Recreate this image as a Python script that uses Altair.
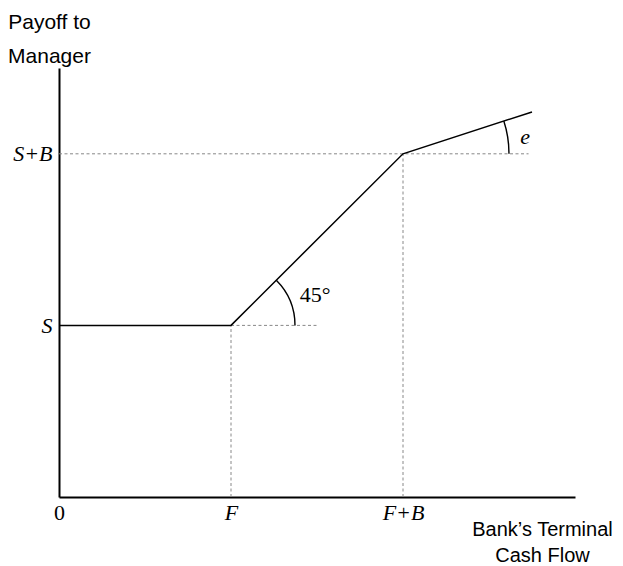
import math
import altair as alt
import pandas as pd

# ---- figure values (data units) ----
F = 10.0          # face value of debt
B = 10.0          # bonus range
S = 10.0          # salary
x_max = 30.0
y_max = 25.0

# payoff schedule
pay_x = [0.0, F, F + B, 27.5]
pay_y = [S, S, S + B, 22.44]

# dashed guide segments
guide_x = [F, F, 0.0, F + B]
guide_x2 = [15.0, F, 27.3, F + B]
guide_y = [S, 0.0, S + B, 0.0]
guide_y2 = [S, S, S + B, S + B]

# axis labels
x_tick_values = [0.0, F, F + B]
x_tick_labels = ["0", "F", "F+B"]
y_tick_values = [S, S + B]
y_tick_labels = ["S", "S+B"]

y_title = ["Payoff to", "Manager"]
x_title = ["Bank\u2019s Terminal", "Cash Flow"]

# angle annotations
angle_text = ["45\u00b0", "e"]
angle_text_x = [14.0, 27.1]
angle_text_y = [11.77, 20.98]

# ---- layout ----
W, H = 516, 429
px_x = W / x_max
px_y = H / y_max


def label_expr(values, labels):
    expr = "'" + labels[-1] + "'"
    for v, l in reversed(list(zip(values[:-1], labels[:-1]))):
        expr = f"abs(datum.value - {v}) < 1e-6 ? '{l}' : " + expr
    return expr


xs = alt.Scale(domain=[0, x_max], nice=False, zero=False)
ys = alt.Scale(domain=[0, y_max], nice=False, zero=False)

x_axis = alt.Axis(
    values=x_tick_values,
    labelExpr=label_expr(x_tick_values, x_tick_labels),
    ticks=False, tickSize=0, grid=False,
    domainColor="black", domainWidth=2,
    labelFont="Liberation Serif", labelFontSize=22, labelColor="black",
    labelFontStyle={"condition": {"test": "datum.value == 0", "value": "normal"}, "value": "italic"},
    labelBaseline="alphabetic", labelPadding=22, labelFlush=False,
    labelOverlap=False, labelAlign="center",
    title=x_title, titleFont="Liberation Sans", titleFontSize=20,
    titleFontWeight="normal", titleColor="black", titleAngle=0,
    titleAlign="center", titleBaseline="alphabetic", titleLineHeight=26,
    titleX=483, titleY=38,
)
y_axis = alt.Axis(
    values=y_tick_values,
    labelExpr=label_expr(y_tick_values, y_tick_labels),
    ticks=False, tickSize=0, grid=False,
    domainColor="black", domainWidth=2,
    labelFont="Liberation Serif", labelFontSize=22, labelColor="black",
    labelFontStyle="italic", labelBaseline="middle", labelPadding=7,
    labelFlush=False, labelOverlap=False,
    title=y_title, titleFont="Liberation Sans", titleFontSize=21,
    titleFontWeight="normal", titleColor="black", titleAngle=0,
    titleAlign="center", titleBaseline="alphabetic", titleLineHeight=34,
    titleX=-10, titleY=-40,
)

guides = pd.DataFrame({"x": guide_x, "x2": guide_x2, "y": guide_y, "y2": guide_y2})
payoff = pd.DataFrame({"x": pay_x, "y": pay_y, "o": list(range(len(pay_x)))})
ann = pd.DataFrame({"x": angle_text_x, "y": angle_text_y, "t": angle_text})

guide_layer = alt.Chart(guides).mark_rule(
    color="#888888", strokeWidth=1, strokeDash=[3, 2.5]
).encode(
    x=alt.X("x:Q", scale=xs, axis=x_axis),
    x2="x2:Q",
    y=alt.Y("y:Q", scale=ys, axis=y_axis),
    y2="y2:Q",
)

line_layer = alt.Chart(payoff).mark_line(color="black", strokeWidth=1.5).encode(
    x=alt.X("x:Q", scale=xs, axis=x_axis),
    y=alt.Y("y:Q", scale=ys, axis=y_axis),
    order="o:Q",
)

# angle arcs
kink1 = pd.DataFrame({"x": [pay_x[1]], "y": [pay_y[1]]})
kink2 = pd.DataFrame({"x": [pay_x[2]], "y": [pay_y[2]]})
ang1 = math.atan2((pay_y[2] - pay_y[1]) * px_y, (pay_x[2] - pay_x[1]) * px_x)
ang2 = math.atan2((pay_y[3] - pay_y[2]) * px_y, (pay_x[3] - pay_x[2]) * px_x)

arc1 = alt.Chart(kink1).mark_arc(
    theta=math.pi / 2 - ang1, theta2=math.pi / 2, radius=64.7, radius2=63.3, color="black"
).encode(
    x=alt.X("x:Q", scale=xs, axis=x_axis),
    y=alt.Y("y:Q", scale=ys, axis=y_axis),
)
arc2 = alt.Chart(kink2).mark_arc(
    theta=math.pi / 2 - ang2, theta2=math.pi / 2, radius=106.7, radius2=105.3, color="black"
).encode(
    x=alt.X("x:Q", scale=xs, axis=x_axis),
    y=alt.Y("y:Q", scale=ys, axis=y_axis),
)

txt45 = alt.Chart(ann.iloc[[0]]).mark_text(
    font="Liberation Serif", fontSize=22, align="left", baseline="middle", color="black"
).encode(
    x=alt.X("x:Q", scale=xs, axis=x_axis),
    y=alt.Y("y:Q", scale=ys, axis=y_axis),
    text="t:N",
)
txte = alt.Chart(ann.iloc[[1]]).mark_text(
    font="Liberation Serif", fontSize=22, fontStyle="italic", align="center",
    baseline="middle", color="black"
).encode(
    x=alt.X("x:Q", scale=xs, axis=x_axis),
    y=alt.Y("y:Q", scale=ys, axis=y_axis),
    text="t:N",
)

chart = alt.layer(guide_layer, line_layer, arc1, arc2, txt45, txte).properties(
    width=W, height=H,
    autosize=alt.AutoSizeParams(type="none"),
    padding={"left": 51, "top": 60, "right": 40, "bottom": 69},
    background="white",
).configure_view(stroke=None)

chart.save("out.html", embed_options={"renderer": "svg", "actions": False})
